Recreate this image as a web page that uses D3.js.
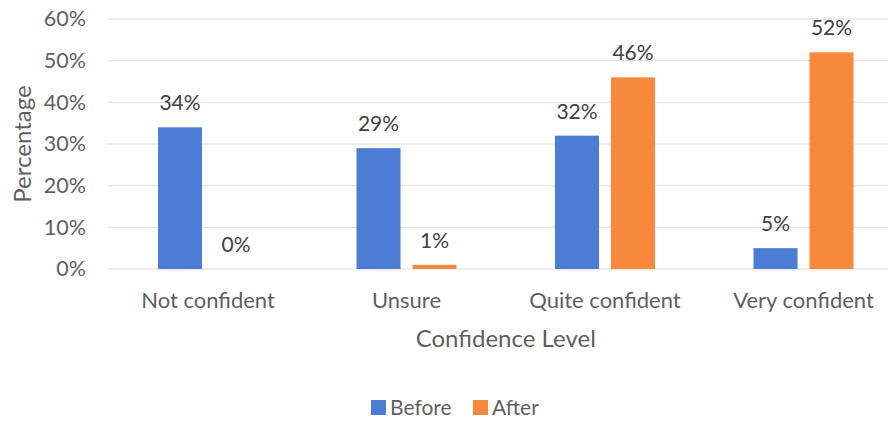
<!DOCTYPE html>
<html><head><meta charset="utf-8">
<script src="https://cdn.jsdelivr.net/npm/d3@7"></script>
<style>html,body{margin:0;padding:0;background:#fff;}svg{display:block;}</style>
</head><body>
<script>
const categories = ["Not confident", "Unsure", "Quite confident", "Very confident"];
const seriesNames = ["Before", "After"];
const beforeValues = [34, 29, 32, 5];
const afterValues = [0, 1, 46, 52];
const yTicks = [0, 10, 20, 30, 40, 50, 60];
const colors = ["#4a7dd3", "#f8883c"];

const W = 888, H = 421;
const svg = d3.select("body").append("svg").attr("width", W).attr("height", H);
const font = "Lato, 'Open Sans', sans-serif";

const x = d3.scaleBand().domain(categories).range([108.75, 902.75]).padding(0);
const xs = d3.scaleBand().domain(seriesNames).range([-50, 50]).paddingInner(0.214).paddingOuter(0);
const y = d3.scaleLinear().domain([0, 60]).range([269, 19]);

// gridlines
svg.append("g").selectAll("line").data(yTicks).join("line")
  .attr("x1", 108).attr("x2", W).attr("y1", d => y(d)).attr("y2", d => y(d))
  .attr("stroke", "#dcdcdc").attr("stroke-width", 1);

// y axis
const yAxis = svg.append("g").attr("transform", "translate(92,0)")
  .call(d3.axisLeft(y).tickValues(yTicks).tickFormat(d => d + "%").tickSize(0).tickPadding(6));
yAxis.select(".domain").remove();
yAxis.selectAll("text").attr("font-family", font).attr("font-size", 21.5).attr("fill", "#5f5f5f");

// x axis
const xAxis = svg.append("g").attr("transform", "translate(0,269)")
  .call(d3.axisBottom(x).tickSize(0).tickPadding(23));
xAxis.select(".domain").remove();
xAxis.selectAll("text").attr("font-family", font).attr("font-size", 22).attr("fill", "#5f5f5f");

const data = categories.map((c, i) => ({cat: c, vals: [
  {s: "Before", v: beforeValues[i]}, {s: "After", v: afterValues[i]}]}));

const groups = svg.append("g").selectAll("g").data(data).join("g")
  .attr("transform", d => `translate(${x(d.cat) + x.bandwidth() / 2},0)`);

groups.selectAll("rect").data(d => d.vals).join("rect")
  .attr("x", d => xs(d.s)).attr("width", xs.bandwidth())
  .attr("y", d => y(d.v)).attr("height", d => y(0) - y(d.v))
  .attr("fill", d => colors[seriesNames.indexOf(d.s)]);

groups.selectAll("text.lbl").data(d => d.vals).join("text").attr("class", "lbl")
  .attr("x", d => xs(d.s) + xs.bandwidth() / 2).attr("y", d => y(d.v) - 17)
  .attr("text-anchor", "middle").attr("font-family", font).attr("font-size", 21)
  .attr("fill", "#404040").text(d => d.v + "%");

// axis titles
svg.append("text").attr("x", (x.range()[0] + x.range()[1]) / 2).attr("y", 347)
  .attr("text-anchor", "middle").attr("font-family", font).attr("font-size", 24)
  .attr("fill", "#5f5f5f").text("Confidence Level");
svg.append("text").attr("transform", `translate(31,${(y(0) + y(60)) / 2}) rotate(-90)`)
  .attr("text-anchor", "middle").attr("font-family", font).attr("font-size", 24)
  .attr("fill", "#5f5f5f").text("Percentage");

// legend
const legendItems = [{s: "Before", x: 371}, {s: "After", x: 473}];
const lg = svg.append("g").selectAll("g").data(legendItems).join("g")
  .attr("transform", d => `translate(${d.x},400)`);
lg.append("rect").attr("width", 15).attr("height", 15).attr("fill", (d, i) => colors[i]);
lg.append("text").attr("x", 19).attr("y", 15).attr("font-family", font).attr("font-size", 21)
  .attr("fill", "#5f5f5f").text(d => d.s);
</script>
</body></html>
